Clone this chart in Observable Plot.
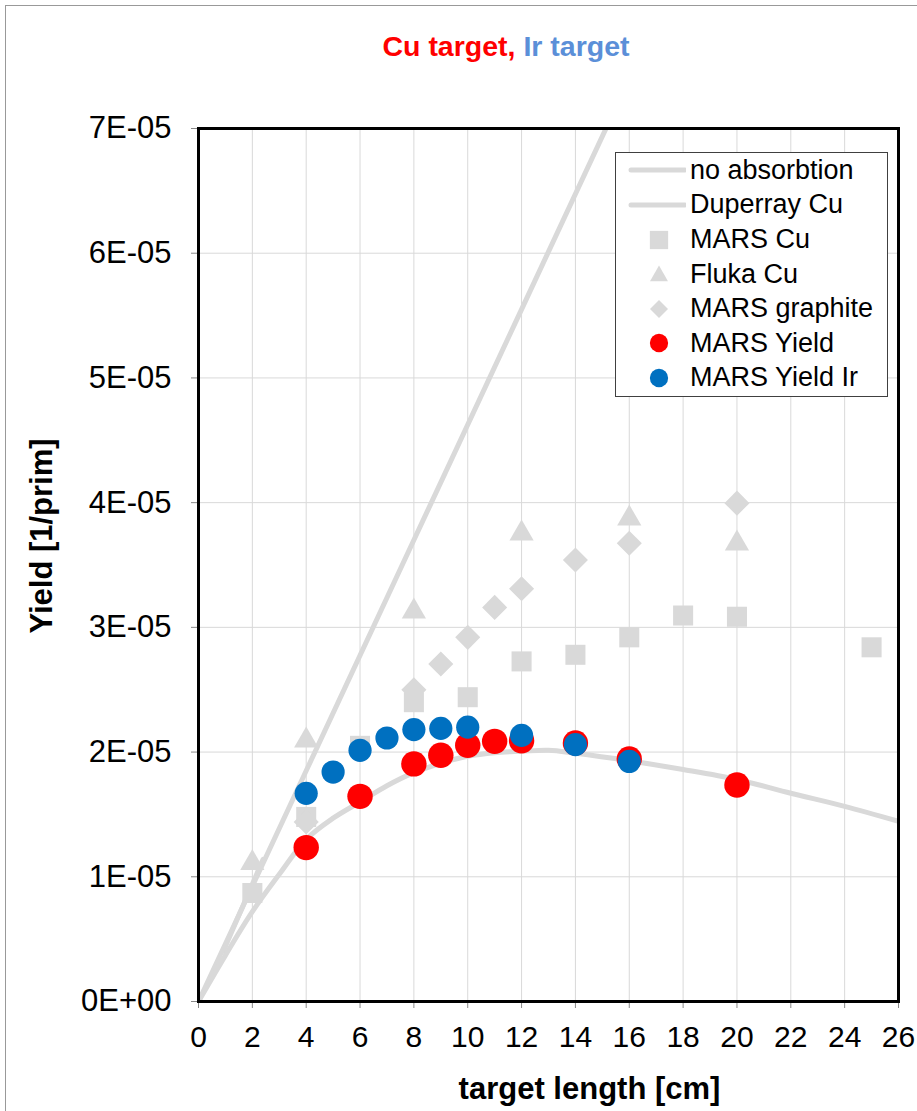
<!DOCTYPE html>
<html>
<head>
<meta charset="utf-8">
<script src="https://cdn.jsdelivr.net/npm/d3@7"></script>
<script src="https://cdn.jsdelivr.net/npm/@observablehq/plot@0.6"></script>
<style>
  body { margin: 0; background: #fff; font-family: "Liberation Sans", Arial, sans-serif; }
  #wrap { position: relative; width: 917px; height: 1111px; overflow: hidden; }
  #border { position: absolute; left: 5px; top: 5px; width: 940px; height: 1140px; border: 1.5px solid #999; }
  #title { position: absolute; left: 0; width: 1012px; top: 29px; text-align: center; font-weight: bold; font-size: 28.5px; line-height: 34px; }
  #legend { position: absolute; left: 615px; top: 152px; width: 271px; height: 243px; border: 1px solid #404040; background: #fff; }
  .row { position: absolute; left: 0; height: 34px; display: flex; align-items: center; font-size: 27px; }
  .row svg { position: absolute; left: 0; top: 0; }
  .row span { position: absolute; left: 74px; white-space: nowrap; }
</style>
</head>
<body>
<div id="wrap">
  <div id="border"></div>
  <div id="chart"></div>
  <div id="title"><span style="color:#ff0000">Cu target,</span> <span style="color:#5b8fd8">Ir target</span></div>
  <div id="legend"></div>
</div>
<script>
// ---- data ----
const xTicks = [0, 2, 4, 6, 8, 10, 12, 14, 16, 18, 20, 22, 24, 26];
const yTicks = [0, 1e-5, 2e-5, 3e-5, 4e-5, 5e-5, 6e-5, 7e-5];

const noAbsX = [0, 4, 8, 12, 16];
const noAbsY = [0, 1.85e-5, 3.70e-5, 5.55e-5, 7.40e-5];

// short extra grey segment visible near the origin
const segX = [0.92, 2.4];
const segY = [0.403e-5, 1.14e-5];

const duperX = [0, 1, 2, 3, 4, 5, 6, 7, 8, 9, 10, 11, 12, 13, 14, 16, 18, 20, 22, 24, 26];
const duperY = [0, 0.37e-5, 0.72e-5, 1.02e-5, 1.30e-5, 1.47e-5, 1.60e-5, 1.73e-5, 1.835e-5, 1.91e-5, 1.966e-5, 1.995e-5, 2.006e-5, 2.014e-5, 1.99e-5, 1.93e-5, 1.86e-5, 1.78e-5, 1.67e-5, 1.565e-5, 1.445e-5];

const marsCuX = [2, 4, 6, 8, 10, 12, 14, 16, 18, 20, 25];
const marsCuY = [0.87e-5, 1.48e-5, 2.05e-5, 2.40e-5, 2.44e-5, 2.727e-5, 2.78e-5, 2.92e-5, 3.095e-5, 3.085e-5, 2.84e-5];

const flukaX = [2, 4, 8, 12, 16, 20];
const flukaY = [1.138e-5, 2.12e-5, 3.155e-5, 3.78e-5, 3.90e-5, 3.70e-5];

const graphX = [4, 8, 9, 10, 11, 12, 14, 16, 20];
const graphY = [1.44e-5, 2.50e-5, 2.706e-5, 2.92e-5, 3.16e-5, 3.31e-5, 3.54e-5, 3.675e-5, 3.996e-5];

const yieldX = [4, 6, 8, 9, 10, 11, 12, 14, 16, 20];
const yieldY = [1.234e-5, 1.645e-5, 1.905e-5, 1.974e-5, 2.054e-5, 2.086e-5, 2.09e-5, 2.073e-5, 1.945e-5, 1.736e-5];

const yieldIrX = [4, 5, 6, 7, 8, 9, 10, 12, 14, 16];
const yieldIrY = [1.669e-5, 1.84e-5, 2.014e-5, 2.113e-5, 2.18e-5, 2.19e-5, 2.20e-5, 2.134e-5, 2.06e-5, 1.925e-5];

const legendNames = ["no absorbtion", "Duperray Cu", "MARS Cu", "Fluka Cu", "MARS graphite", "MARS Yield", "MARS Yield Ir"];

// ---- helpers ----
const zip = (xs, ys) => xs.map((x, i) => ({x, y: ys[i]}));
const fmt = d => {
  if (d === 0) return "0E+00";
  const [m, e] = d.toExponential(0).split("e");
  const ei = +e;
  return m + "E" + (ei < 0 ? "-" : "+") + String(Math.abs(ei)).padStart(2, "0");
};
const GRAY = "#d9d9d9";
const RED = "#ff0000";
const BLUE = "#0070c0";

const chart = Plot.plot({
  width: 917,
  height: 1111,
  marginLeft: 198,
  marginRight: 19,
  marginTop: 128,
  marginBottom: 110,
  style: {fontFamily: "'Liberation Sans', Arial, sans-serif", background: "transparent", color: "black"},
  x: {domain: [0, 26]},
  y: {domain: [0, 7e-5]},
  marks: [
    Plot.gridX(xTicks, {stroke: GRAY, strokeOpacity: 1}),
    Plot.gridY(yTicks, {stroke: GRAY, strokeOpacity: 1}),
    Plot.axisX({ticks: xTicks, tickSize: 7, tickPadding: 17, fontSize: 30, label: null, stroke: "#888", tickFormat: d => String(d)}),
    Plot.axisY({ticks: yTicks, tickSize: 7, tickPadding: 20, fontSize: 31, label: null, stroke: "#888", tickFormat: fmt}),
    Plot.line(zip(noAbsX, noAbsY), {x: "x", y: "y", stroke: GRAY, strokeWidth: 5, clip: true}),
    Plot.line(zip(segX, segY), {x: "x", y: "y", stroke: GRAY, strokeWidth: 5, clip: true}),
    Plot.line(zip(duperX, duperY), {x: "x", y: "y", stroke: GRAY, strokeWidth: 5, curve: "catmull-rom", clip: true}),
    Plot.dot(zip(marsCuX, marsCuY), {x: "x", y: "y", symbol: "square", r: 11.3, fill: GRAY}),
    Plot.dot(zip(flukaX, flukaY), {x: "x", y: "y", symbol: "triangle", r: 9, fill: GRAY, dy: 3.5}),
    Plot.dot(zip(graphX, graphY), {x: "x", y: "y", symbol: "diamond2", r: 11.3, fill: GRAY}),
    Plot.dot(zip(yieldX, yieldY), {x: "x", y: "y", r: 12.7, fill: RED}),
    Plot.dot(zip(yieldIrX, yieldIrY), {x: "x", y: "y", r: 11.6, fill: BLUE}),
    Plot.frame({stroke: "black", strokeWidth: 3}),
    Plot.text(["target length [cm]"], {frameAnchor: "bottom", dx: 41, dy: 97, fontSize: 31, fontWeight: "bold", fill: "black"}),
    Plot.text(["Yield [1/prim]"], {frameAnchor: "left", textAnchor: "middle", dx: -156, dy: -29, rotate: -90, fontSize: 31, fontWeight: "bold", fill: "black"})
  ]
});
document.getElementById("chart").appendChild(chart);

// ---- legend ----
const legend = d3.select("#legend");
const kinds = [
  {t: "line"}, {t: "line"},
  {t: "sym", s: d3.symbolSquare, size: 335, c: GRAY},
  {t: "sym", s: d3.symbolTriangle, size: 140, c: GRAY, dy: 2},
  {t: "sym", s: d3.symbolDiamond2, size: 206, c: GRAY},
  {t: "sym", s: d3.symbolCircle, size: 263, c: RED},
  {t: "sym", s: d3.symbolCircle, size: 263, c: BLUE}
];
legendNames.forEach((name, i) => {
  const row = legend.append("div").attr("class", "row").style("top", (0.3 + i * 34.6) + "px").style("width", "270px");
  const svg = row.append("svg").attr("width", 70).attr("height", 34);
  const k = kinds[i];
  if (k.t === "line") {
    svg.append("line").attr("x1", 15).attr("x2", 69).attr("y1", 17).attr("y2", 17)
      .attr("stroke", GRAY).attr("stroke-width", 5).attr("stroke-linecap", "round");
  } else {
    svg.append("path").attr("d", d3.symbol(k.s, k.size)())
      .attr("transform", `translate(43,${17 + (k.dy || 0)})`).attr("fill", k.c);
  }
  row.append("span").text(name);
});
</script>
</body>
</html>
